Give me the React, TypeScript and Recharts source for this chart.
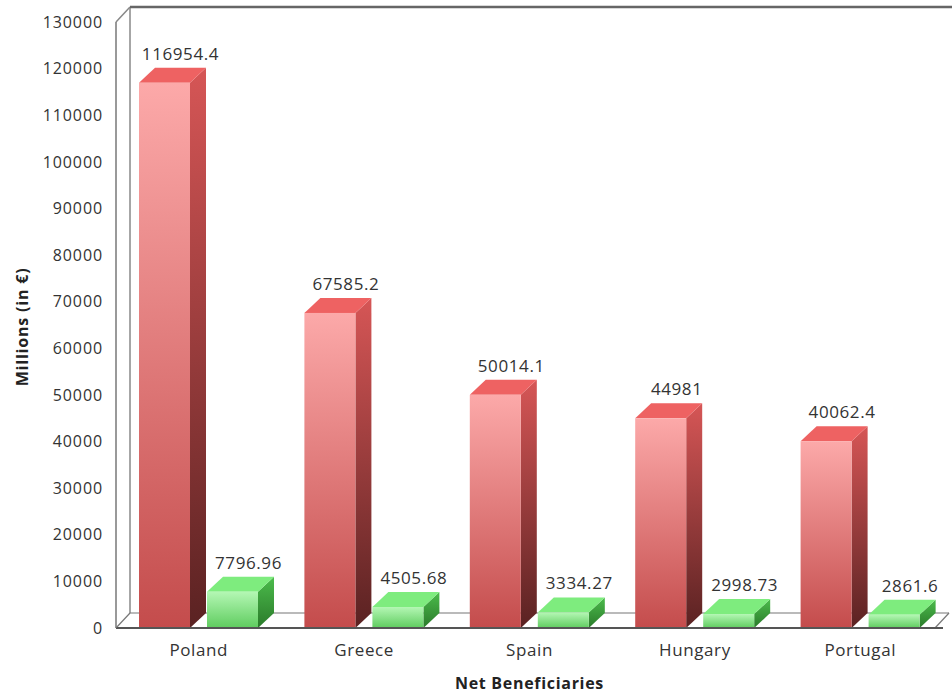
import React from 'react';
import { BarChart, Bar, XAxis, YAxis, LabelList } from 'recharts';

const categories = ['Poland', 'Greece', 'Spain', 'Hungary', 'Portugal'];
const receivedValues = [116954.4, 67585.2, 50014.1, 44981, 40062.4];
const paidValues = [7796.96, 4505.68, 3334.27, 2998.73, 2861.6];
const yTicks = [0, 10000, 20000, 30000, 40000, 50000, 60000, 70000, 80000, 90000, 100000, 110000, 120000, 130000];

const data = categories.map((name, i) => ({ name, received: receivedValues[i], paid: paidValues[i] }));

const W = 952;
const H = 693;
const MARGIN = { top: 22, right: 9, left: 0, bottom: 0 };
const YAXIS_W = 116;
const XAXIS_H = 65;
const DX = 16;
const DY = 15;
const FONT = '"Open Sans", "Segoe UI", sans-serif';

const RED = { f1: '#fca9a9', f2: '#c44c4c', top: '#ee6262', s1: '#d65656', s2: '#5a2222' };
const GREEN = { f1: '#b4f7b4', f2: '#5fcc5f', top: '#7eec7e', s1: '#4cbc4c', s2: '#2a7a2a' };

const makeShape = (c: any, key: string) => (props: any) => {
  const { x, y, width: w, height: h, index } = props;
  if (w == null || h == null || h <= 0) return <g />;
  const id = `${key}-${index}`;
  return (
    <g>
      <defs>
        <linearGradient id={`${id}-f`} x1="0" y1="0" x2="0" y2="1">
          <stop offset="0" stopColor={c.f1} />
          <stop offset="1" stopColor={c.f2} />
        </linearGradient>
        <linearGradient id={`${id}-s`} x1="0" y1="0" x2="0" y2="1">
          <stop offset="0" stopColor={c.s1} />
          <stop offset="1" stopColor={c.s2} />
        </linearGradient>
      </defs>
      <polygon
        points={`${x + w},${y} ${x + w + DX},${y - DY} ${x + w + DX},${y + h - DY} ${x + w},${y + h}`}
        fill={`url(#${id}-s)`}
      />
      <polygon
        points={`${x},${y} ${x + DX},${y - DY} ${x + w + DX},${y - DY} ${x + w},${y}`}
        fill={c.top}
      />
      <rect x={x} y={y} width={w} height={h} fill={`url(#${id}-f)`} />
    </g>
  );
};

const RedShape = makeShape(RED, 'red');
const GreenShape = makeShape(GREEN, 'green');

const valueLabel = (p: any) => {
  const { x, y, width, value } = p;
  return (
    <text
      x={x + width / 2 + DX}
      y={y - DY - 8}
      textAnchor="middle"
      fontFamily={FONT}
      fontSize={17}
      letterSpacing={0.6}
      fill="#333"
    >
      {value}
    </text>
  );
};

const plotL = MARGIN.left + YAXIS_W;
const plotT = MARGIN.top;
const plotR = W - MARGIN.right;
const plotB = H - MARGIN.bottom - XAXIS_H;
const FX = 14;
const FY = 15;

export default function App() {
  return (
    <div style={{ position: 'absolute', left: 0, top: 0, width: W, height: H, background: '#fff' }}>
      <svg width={W} height={H} style={{ position: 'absolute', left: 0, top: 0 }}>
        <line x1={plotL + FX} y1={plotT - FY} x2={plotL + FX} y2={plotB - FY} stroke="#888" strokeWidth={1.5} />
        <line x1={plotL} y1={plotT} x2={plotL + FX} y2={plotT - FY} stroke="#888" strokeWidth={1.5} />
        <line x1={plotL + FX} y1={plotT - FY} x2={W} y2={plotT - FY} stroke="#666" strokeWidth={2.5} />
        <line x1={plotL + FX} y1={plotB - FY} x2={plotR + 6} y2={plotB - FY} stroke="#777" strokeWidth={1.2} />
        <line x1={plotL} y1={plotB} x2={plotL + FX} y2={plotB - FY} stroke="#777" strokeWidth={1.2} />
        <line x1={plotR - 8} y1={plotB} x2={plotR + 6} y2={plotB - FY} stroke="#777" strokeWidth={1.2} />
      </svg>
      <div style={{ position: 'absolute', left: 0, top: 0 }}>
        <BarChart
          width={W}
          height={H}
          data={data}
          margin={MARGIN}
          barSize={51}
          barGap={17}
        >
          <XAxis
            dataKey="name"
            height={XAXIS_H}
            tickLine={false}
            tickSize={0}
            tickMargin={16}
            axisLine={{ stroke: '#555', strokeWidth: 2 }}
            tick={{ fontFamily: FONT, fontSize: 17, fill: '#333', letterSpacing: 0.6 }}
            label={(p: any) => {
              const vb = p.viewBox;
              return (
                <text
                  x={vb.x + vb.width / 2}
                  y={vb.y + 61}
                  textAnchor="middle"
                  fontFamily={FONT}
                  fontSize={16}
                  fontWeight="bold"
                  fill="#222"
                  letterSpacing={0.7}
                >
                  Net Beneficiaries
                </text>
              );
            }}
          />
          <YAxis
            width={YAXIS_W}
            domain={[0, 130000]}
            ticks={yTicks}
            interval={0}
            tickLine={false}
            tickSize={0}
            tickMargin={13}
            axisLine={{ stroke: '#777', strokeWidth: 1.5 }}
            tick={{ fontFamily: FONT, fontSize: 16, fill: '#333', letterSpacing: 0.9 }}
            label={() => (
              <text
                x={0}
                y={0}
                transform={`translate(22, 327) rotate(-90)`}
                textAnchor="middle"
                dominantBaseline="central"
                fontFamily={FONT}
                fontSize={16}
                fontWeight="bold"
                fill="#222"
                letterSpacing={0.8}
              >
                Millions (in €)
              </text>
            )}
          />
          <Bar dataKey="received" shape={RedShape} isAnimationActive={false}>
            <LabelList dataKey="received" content={valueLabel} />
          </Bar>
          <Bar dataKey="paid" shape={GreenShape} isAnimationActive={false}>
            <LabelList dataKey="paid" content={valueLabel} />
          </Bar>
        </BarChart>
      </div>
    </div>
  );
}
